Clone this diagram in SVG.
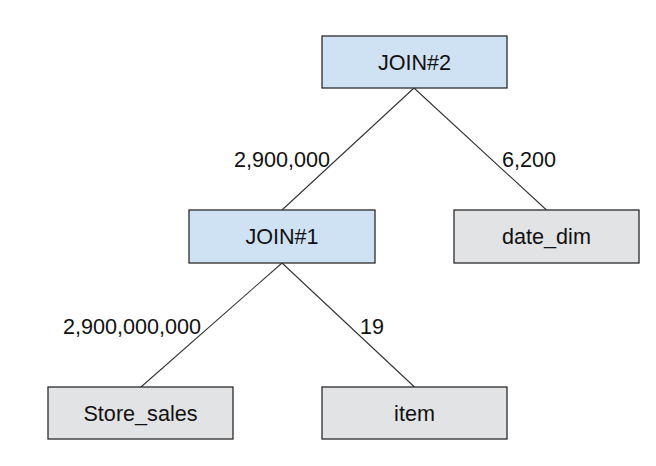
<svg xmlns="http://www.w3.org/2000/svg" width="656" height="466" viewBox="0 0 656 466">
<style>
.box{stroke:#2b2b2b;stroke-width:1.3}
.join{fill:#cfe2f3}
.table{fill:#e1e3e4}
.t{font-family:"Liberation Sans",Arial,sans-serif;font-size:21.6px;fill:#111}
.m{text-anchor:middle}
.edge{stroke:#333;stroke-width:1.1;fill:none}
</style>
<rect width="656" height="466" fill="#fff"/>
<g id="connectors">
<line class="edge" x1="414" y1="88" x2="282" y2="210"/>
<line class="edge" x1="414" y1="88" x2="546.5" y2="210"/>
<line class="edge" x1="282" y1="263" x2="141" y2="387"/>
<line class="edge" x1="282" y1="263" x2="414.5" y2="387"/>
<text class="t" x="234" y="167">2,900,000</text>
<text class="t" x="502" y="167">6,200</text>
<text class="t" x="63" y="334">2,900,000,000</text>
<text class="t" x="360" y="334">19</text>
</g>
<g id="join2">
<rect class="box join" x="322" y="36" width="185" height="52"/>
<text class="t m" x="414.5" y="70">JOIN#2</text>
</g>
<g id="join1">
<rect class="box join" x="189" y="210" width="186" height="53"/>
<text class="t m" x="282" y="244">JOIN#1</text>
</g>
<g id="date_dim">
<rect class="box table" x="454" y="210" width="185" height="53"/>
<text class="t m" x="546.5" y="244">date_dim</text>
</g>
<g id="store_sales">
<rect class="box table" x="48" y="387" width="185" height="52"/>
<text class="t m" x="140.5" y="421">Store_sales</text>
</g>
<g id="item">
<rect class="box table" x="322" y="387" width="185" height="52"/>
<text class="t m" x="414.5" y="421">item</text>
</g>
</svg>
